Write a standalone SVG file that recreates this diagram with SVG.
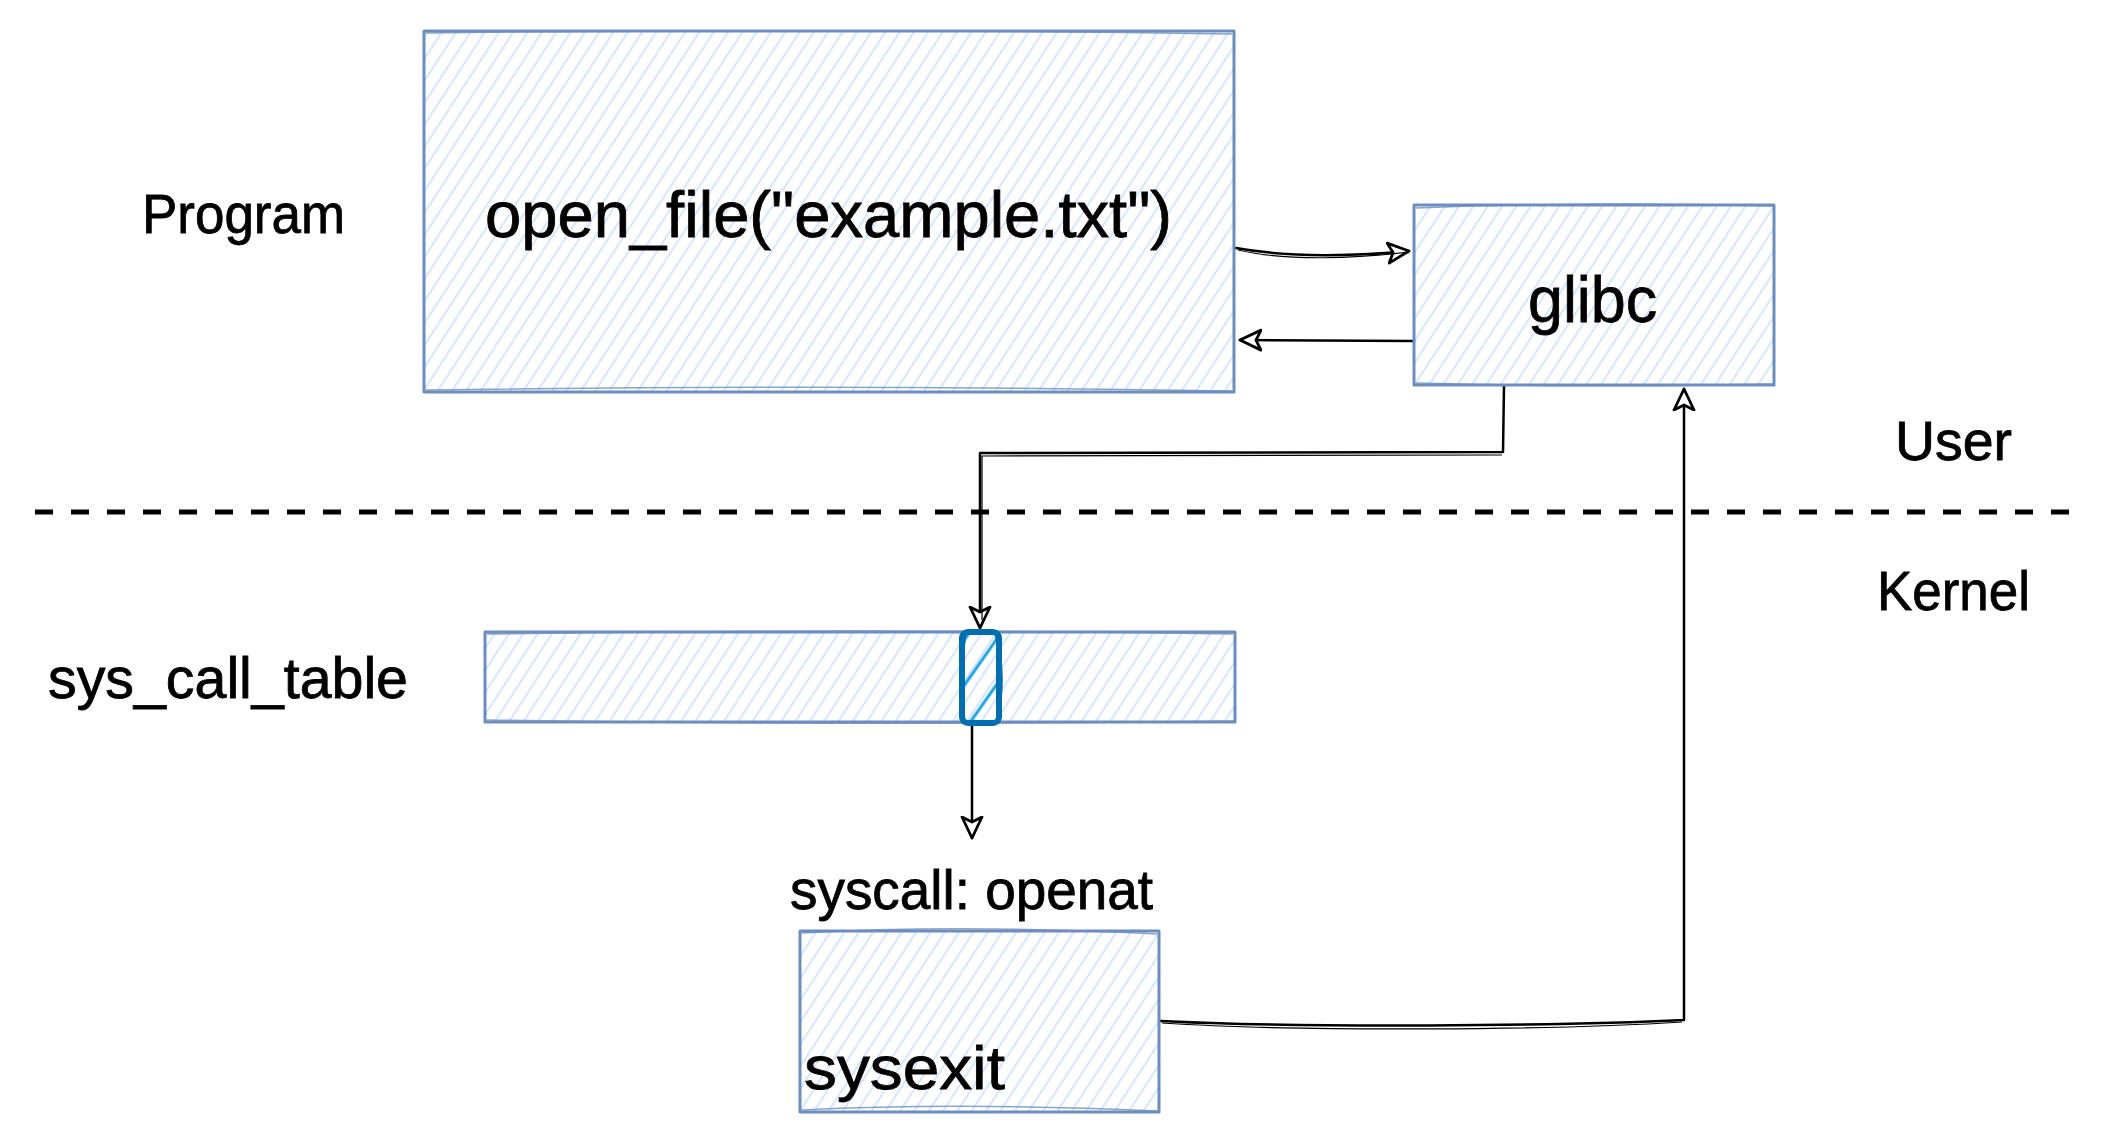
<svg xmlns="http://www.w3.org/2000/svg" width="2109" height="1143" viewBox="0 0 2109 1143">
<style>
  .box { fill: url(#hatch); stroke: #6c8ebf; stroke-width: 3; stroke-linejoin: round; }
  .box2 { fill: none; stroke: #6c8ebf; stroke-width: 1.5; opacity: 0.8; }
  .lbl { font-family: "Liberation Sans", Arial, sans-serif; fill: #000; stroke: #000; stroke-width: 0.8; }
  .conn { fill: none; stroke: #000; stroke-width: 2.5; stroke-linejoin: round; stroke-linecap: round; }
  .conn2 { fill: none; stroke: #000; stroke-width: 1.2; }
</style>
<defs>
  <pattern id="hatch" patternUnits="userSpaceOnUse" width="12" height="12" patternTransform="rotate(33)">
    <line x1="4" y1="0" x2="4" y2="12" stroke="#d6e6fc" stroke-width="2"/>
  </pattern>
  <pattern id="hatch2" patternUnits="userSpaceOnUse" width="26" height="26" patternTransform="rotate(35)">
    <line x1="13" y1="0" x2="13" y2="26" stroke="#1ba1e2" stroke-width="3"/>
  </pattern>
  <marker id="arr" markerUnits="userSpaceOnUse" markerWidth="28" markerHeight="28" refX="22" refY="12" orient="auto">
    <path d="M1,2 L22,12 L1,22 L6,12 Z" fill="#fff" stroke="#000" stroke-width="2.8" stroke-linejoin="round"/>
  </marker>
</defs>

<g id="connectors">
  <path class="conn" d="M1236,248 C1290,258 1360,256 1409,251" marker-end="url(#arr)"/>
  <path class="conn2" d="M1238,250 C1290,262 1360,258 1409,252"/>
  <path class="conn" d="M1414,341 L1240,340" marker-end="url(#arr)"/>
  <path class="conn" d="M1504,386 L1503,452 L980,453 L980,628" marker-end="url(#arr)"/>
  <path class="conn2" d="M1502,455 L982,456 L982,620"/>
  <path class="conn" d="M972,726 L972,838" marker-end="url(#arr)"/>
  <path class="conn" d="M1160,1021 C1300,1028 1560,1026 1684,1020 L1684,389" marker-end="url(#arr)"/>
  <path class="conn2" d="M1162,1023 C1300,1032 1560,1030 1682,1022"/>
  <line x1="35" y1="512" x2="2070" y2="512" stroke="#000" stroke-width="5" stroke-dasharray="18 18"/>
</g>

<g id="program">
  <rect class="box" x="424" y="31" width="810" height="361"/>
  <path class="box2" d="M426,33 Q830,28 1232,34 M426,390 Q830,384 1232,391"/>
  <text class="lbl" x="485" y="237" font-size="64" textLength="687" lengthAdjust="spacingAndGlyphs">open_file("example.txt")</text>
</g>
<g id="program-label">
  <text class="lbl" x="142" y="233" font-size="55" textLength="203" lengthAdjust="spacingAndGlyphs">Program</text>
</g>

<g id="glibc">
  <rect class="box" x="1414" y="205" width="360" height="180"/>
  <path class="box2" d="M1416,208 Q1600,201 1772,206 M1416,383 Q1600,388 1772,384"/>
  <text class="lbl" x="1528" y="322" font-size="64" textLength="129" lengthAdjust="spacingAndGlyphs">glibc</text>
</g>

<g id="user-label">
  <text class="lbl" x="1895" y="460" font-size="55" textLength="117" lengthAdjust="spacingAndGlyphs">User</text>
</g>
<g id="kernel-label">
  <text class="lbl" x="1877" y="610" font-size="55" textLength="153" lengthAdjust="spacingAndGlyphs">Kernel</text>
</g>

<g id="sys_call_table">
  <rect class="box" x="485" y="632" width="750" height="90"/>
  <path class="box2" d="M487,634 Q860,628 1233,634 M487,720 Q860,726 1233,721"/>
  <text class="lbl" x="48" y="698" font-size="57" textLength="360" lengthAdjust="spacingAndGlyphs">sys_call_table</text>
</g>

<g id="cell">
  <rect x="962" y="632" width="37" height="91" rx="6" fill="url(#hatch2)" stroke="#006eaf" stroke-width="6"/>
  <path d="M965,634 Q958,678 964,721 M996,634 Q1006,678 997,721" fill="none" stroke="#006eaf" stroke-width="3"/>
</g>

<g id="syscall-label">
  <text class="lbl" x="790" y="909" font-size="55" textLength="363" lengthAdjust="spacingAndGlyphs">syscall: openat</text>
</g>

<g id="sysexit">
  <rect class="box" x="800" y="931" width="359" height="181"/>
  <path class="box2" d="M802,933 Q960,924 1157,934 M802,1110 Q960,1102 1157,1111"/>
  <text class="lbl" x="804" y="1089" font-size="62" textLength="201" lengthAdjust="spacingAndGlyphs">sysexit</text>
</g>
</svg>
